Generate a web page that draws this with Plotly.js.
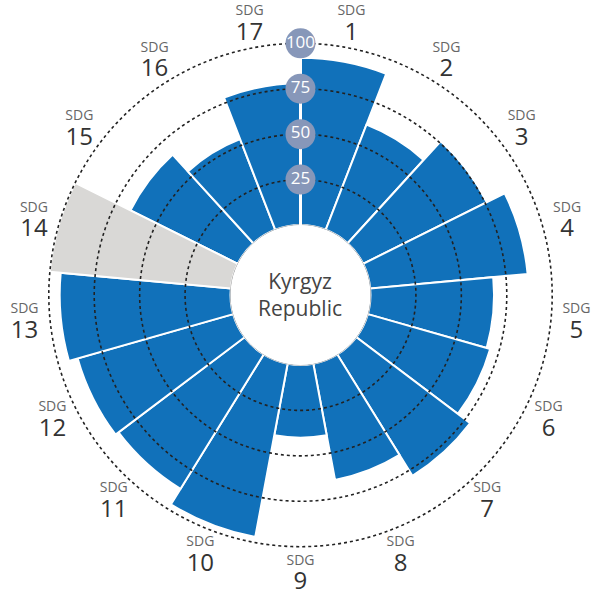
<!DOCTYPE html>
<html>
<head>
<meta charset="utf-8">
<script src="https://cdn.plot.ly/plotly-3.0.1.min.js"></script>
<style>html,body{margin:0;padding:0;background:#fff;}#chart{width:598px;height:592px;}</style>
</head>
<body>
<div id="chart"></div>
<script>
// ---- data ----
const sdgNumbers = ['1','2','3','4','5','6','7','8','9','10','11','12','13','14','15','16','17'];
const scores = [92, 62, 76, 87, 68, 70, 78.5, 65, 40, 97, 87, 89, 94, null, 66, 53.5, 78];
const radialTicks = [25, 50, 75, 100];
const radialTickText = ['25', '50', '75', '100'];
const countryName = 'Kyrgyz<br>Republic';

// ---- styling ----
const BLUE = '#1171ba';
const GREY = '#d9d8d6';
const BADGE = '#8797b9';
const FONT = 'Open Sans, Noto Sans, sans-serif';
const rMax = 100;      // score scale maximum (outer dotted ring)
const rAxisMax = 123;  // axis extends beyond the ring to make room for labels
const labelR = 114;    // radial position (axis units) of the SDG labels

const n = sdgNumbers.length;
const step = 360 / n;
const thetas = sdgNumbers.map((_, i) => (i + 0.5) * step);
const labelText = sdgNumbers.map(s =>
  '<span style="font-size:14px;color:#666">SDG</span><br><span style="font-size:24px;color:#333">' + s + '</span>');

const circleTheta = [];
for (let a = 0; a <= 360; a += 1) circleTheta.push(a);

const traces = [];
traces.push({
  type: 'barpolar',
  r: scores,
  theta: thetas,
  width: sdgNumbers.map(() => step),
  marker: {color: BLUE, line: {color: '#fff', width: 2}},
  hoverinfo: 'skip'
});
traces.push({
  type: 'barpolar',
  r: scores.map(v => v == null ? rMax : null),
  theta: thetas,
  width: sdgNumbers.map(() => step),
  marker: {color: GREY, line: {color: '#fff', width: 2}},
  hoverinfo: 'skip'
});
// dotted grid circles drawn above the bars
radialTicks.forEach(v => {
  traces.push({
    type: 'scatterpolar', mode: 'lines',
    r: circleTheta.map(() => v), theta: circleTheta,
    line: {color: '#222', width: 1.6, dash: 'dot'},
    hoverinfo: 'skip'
  });
});
// hole outline
traces.push({
  type: 'scatterpolar', mode: 'lines',
  r: circleTheta.map(() => 0), theta: circleTheta,
  line: {color: '#999', width: 1},
  hoverinfo: 'skip'
});
// white spoke at top
traces.push({
  type: 'scatterpolar', mode: 'lines',
  r: [0, rMax], theta: [0, 0],
  line: {color: '#fff', width: 3},
  hoverinfo: 'skip'
});
// radial tick badges
traces.push({
  type: 'scatterpolar', mode: 'markers+text',
  r: radialTicks, theta: radialTicks.map(() => 0),
  text: radialTickText, textposition: 'middle center',
  marker: {size: 30, color: BADGE},
  textfont: {color: '#fff', size: 17, family: FONT},
  hoverinfo: 'skip'
});
// SDG labels around the outside
traces.push({
  type: 'scatterpolar', mode: 'text',
  r: sdgNumbers.map(() => labelR), theta: thetas,
  text: labelText, textposition: 'middle center',
  textfont: {size: 19, color: '#333', family: FONT},
  cliponaxis: false,
  hoverinfo: 'skip'
});

const dx = [0.0117, 0.9933], dy = [0.0059, 0.9975];
const layout = {
  width: 598, height: 592,
  margin: {l: 0, r: 0, t: 0, b: 0, pad: 0},
  paper_bgcolor: '#fff',
  showlegend: false,
  font: {family: FONT},
  polar: {
    domain: {x: dx, y: dy},
    hole: 0.2385,
    bgcolor: 'rgba(0,0,0,0)',
    bargap: 0,
    radialaxis: {range: [0, rAxisMax], visible: false, showgrid: false},
    angularaxis: {
      rotation: 90, direction: 'clockwise',
      showgrid: false, showline: false, ticks: '', showticklabels: false
    }
  },
  annotations: [{
    xref: 'paper', yref: 'paper',
    x: (dx[0] + dx[1]) / 2, y: (dy[0] + dy[1]) / 2,
    text: countryName, showarrow: false,
    font: {size: 21, color: '#444', family: FONT},
    xanchor: 'center', yanchor: 'middle'
  }]
};

Plotly.newPlot('chart', traces, layout, {displayModeBar: false, staticPlot: true});
</script>
</body>
</html>
